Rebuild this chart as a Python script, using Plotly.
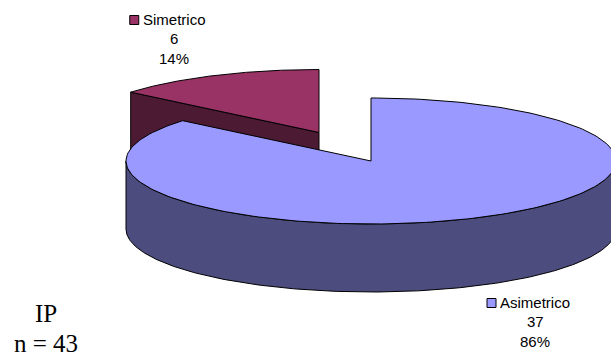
import numpy as np
import plotly.graph_objects as go

# ---- data ----
labels = ["Asimetrico", "Simetrico"]
values = [37, 6]
top_colors = ["#9999FF", "#993366"]
side_colors = ["#4C4C7E", "#4D1A33"]
explode = [0.0, 0.5]
note_lines = ["IP", "n = 43"]

# ---- geometry (screen-pixel coordinate system) ----
W, H = 611, 361
CX, CY = 371, 161
RX, RY = 245, 63
DEPTH = 68
FONT = "Arial, Liberation Sans, sans-serif"

# label anchors: (center x of name text, y of name line)
LABEL_POS = {"Asimetrico": (535, 302), "Simetrico": (174, 19)}
LINE_GAP = 19.5
SQUARE_GAP = 8.5

total = sum(values)
fig = go.Figure()


def arc(a0, a1, cx, cy, dz=0.0, n=240):
    phi = np.radians(np.linspace(a0, a1, n))
    return cx + RX * np.sin(phi), cy - RY * np.cos(phi) + dz


def poly(xs, ys, fill):
    fig.add_trace(go.Scatter(
        x=np.append(xs, xs[0]), y=np.append(ys, ys[0]), mode="lines",
        fill="toself", fillcolor=fill,
        line=dict(color="black", width=1), hoverinfo="skip", showlegend=False))


slices = []
start = 0.0
for lab, v, tc, sc, ex in zip(labels, values, top_colors, side_colors, explode):
    sweep = 360.0 * v / total
    a0, a1 = start, start + sweep
    mid = np.radians((a0 + a1) / 2)
    ox, oy = ex * RX * np.sin(mid), -ex * RY * np.cos(mid)
    slices.append(dict(lab=lab, v=v, tc=tc, sc=sc, a0=a0, a1=a1,
                       cx=CX + ox, cy=CY + oy))
    start = a1

# back to front
for s in sorted(slices, key=lambda d: d["cy"]):
    cx, cy, a0, a1 = s["cx"], s["cy"], s["a0"], s["a1"]
    # radial cut faces that face the viewer
    for ang, vis in ((a0, np.sin(np.radians(a0)) < -1e-6),
                     (a1, np.sin(np.radians(a1)) > 1e-6)):
        if vis:
            px, py = arc(ang, ang, cx, cy, n=1)
            xs = np.array([cx, px[0], px[0], cx])
            ys = np.array([cy, py[0], py[0] + DEPTH, cy + DEPTH])
            poly(xs, ys, s["sc"])
    # outer curved side (front half only)
    lo, hi = max(a0, 90.0), min(a1, 270.0)
    if hi > lo:
        tx, ty = arc(lo, hi, cx, cy)
        bx, by = arc(hi, lo, cx, cy, DEPTH)
        poly(np.concatenate([tx, bx]), np.concatenate([ty, by]), s["sc"])
    # top face
    tx, ty = arc(a0, a1, cx, cy)
    poly(np.concatenate([[cx], tx]), np.concatenate([[cy], ty]), s["tc"])

# approximate width of the label name (Arial metrics, 15px)
ARIAL = dict(A=.667, S=.667, s=.5, i=.222, m=.833, e=.556, t=.278, r=.333, c=.5, o=.556)

annotations = []
for s in slices:
    lx, ly = LABEL_POS[s["lab"]]
    pct = f"{round(100 * s['v'] / total)}%"
    for i, t in enumerate([s["lab"], str(s["v"]), pct]):
        annotations.append(dict(x=lx, y=ly + i * LINE_GAP, text=t, showarrow=False,
                                xref="x", yref="y", xanchor="center", yanchor="middle",
                                font=dict(family=FONT, size=15, color="black")))
    tw = sum(ARIAL.get(ch, .55) for ch in s["lab"]) * 15
    fig.add_trace(go.Scatter(
        x=[lx - tw / 2 - SQUARE_GAP], y=[ly + 1], mode="markers",
        marker=dict(symbol="square", size=9, color=s["tc"],
                    line=dict(color="black", width=1)),
        hoverinfo="skip", showlegend=False))

for i, t in enumerate(note_lines):
    annotations.append(dict(x=46, y=313 + i * 30, text=t, showarrow=False,
                            xref="x", yref="y", xanchor="center", yanchor="middle",
                            font=dict(family="Liberation Serif, Times New Roman, serif",
                                      size=25, color="black")))

fig.update_layout(
    width=W, height=H, margin=dict(l=0, r=0, t=0, b=0),
    paper_bgcolor="white", plot_bgcolor="white", showlegend=False,
    hovermode=False,
    xaxis=dict(range=[0, W], visible=False, fixedrange=True),
    yaxis=dict(range=[H, 0], visible=False, fixedrange=True),
    annotations=annotations,
)
fig.write_html(
    "out.html",
    config={"displayModeBar": False, "staticPlot": True},
    post_script="document.body.style.margin='0';document.body.style.overflow='hidden';",
)
